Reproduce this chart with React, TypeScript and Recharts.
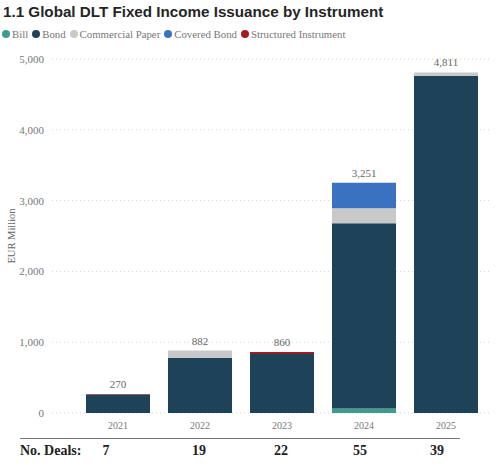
import * as React from "react"
import { ComposedChart, Bar, Line, XAxis, YAxis, CartesianGrid, LabelList } from "recharts"

const years = ["2021", "2022", "2023", "2024", "2025"]
const bill = [0, 0, 0, 65, 0]
const bond = [260, 780, 835, 2615, 4760]
const commercialPaper = [0, 102, 0, 211, 51]
const coveredBond = [0, 0, 0, 360, 0]
const structuredInstrument = [10, 0, 25, 0, 0]
const totals = [270, 882, 860, 3251, 4811]
const deals = [7, 19, 22, 55, 39]
const yTicks = [0, 1000, 2000, 3000, 4000, 5000]

const series = [
  { key: "bill", name: "Bill", color: "#3d9c8a" },
  { key: "bond", name: "Bond", color: "#1e4258" },
  { key: "commercialPaper", name: "Commercial Paper", color: "#c9c9c9" },
  { key: "coveredBond", name: "Covered Bond", color: "#3a71c1" },
  { key: "structuredInstrument", name: "Structured Instrument", color: "#a01c22" },
]

const data = years.map((year, i) => ({
  year,
  bill: bill[i],
  bond: bond[i],
  commercialPaper: commercialPaper[i],
  coveredBond: coveredBond[i],
  structuredInstrument: structuredInstrument[i],
  total: totals[i],
}))

const serif = "'Liberation Serif', 'DejaVu Serif', serif"
const fmt = (v: number) => v.toLocaleString("en-US")

// deal counts sit in their own row, not quite under the bars
const dealX = [106, 199, 281, 360, 437]

export default function App() {
  return (
    <div
      style={{
        position: "absolute",
        top: 0,
        left: 0,
        width: 500,
        height: 471,
        background: "#fff",
        overflow: "hidden",
      }}
    >
      <div
        style={{
          position: "absolute",
          left: 3,
          top: 3,
          fontFamily: "'Liberation Sans', Arial, sans-serif",
          fontWeight: 700,
          fontSize: 15.2,
          color: "#252525",
          whiteSpace: "nowrap",
        }}
      >
        1.1 Global DLT Fixed Income Issuance by Instrument
      </div>
      <div
        style={{
          position: "absolute",
          left: 2,
          top: 28,
          display: "flex",
          alignItems: "center",
          fontFamily: serif,
          fontSize: 10.8,
          color: "#777",
          whiteSpace: "nowrap",
        }}
      >
        {series.map((s) => (
          <span key={s.key} style={{ display: "flex", alignItems: "center", marginRight: 4 }}>
            <span
              style={{
                display: "inline-block",
                width: 8,
                height: 8,
                borderRadius: 4,
                background: s.color,
                marginRight: 2,
              }}
            />
            {s.name}
          </span>
        ))}
      </div>

      <div style={{ position: "absolute", left: 0, top: 0 }}>
        <ComposedChart
          width={500}
          height={471}
          data={data}
          margin={{ top: 59, right: 10, bottom: 37, left: 5 }}
        >
          <CartesianGrid
            vertical={false}
            stroke="#cfcfcf"
            strokeDasharray="1 3"
          />
          <XAxis
            dataKey="year"
            height={21}
            padding={{ left: 25, right: 3 }}
            axisLine={false}
            tickLine={false}
            tickSize={0}
            tickMargin={9}
            tick={{ fill: "#777", fontSize: 10, fontFamily: serif }}
          />
          <YAxis
            width={47}
            domain={[0, 5000]}
            ticks={yTicks}
            axisLine={false}
            tickLine={false}
            tickSize={0}
            tickMargin={8}
            tickFormatter={fmt}
            tick={{ fill: "#777", fontSize: 11, fontFamily: serif }}
            label={{
              value: "EUR Million",
              angle: -90,
              position: "insideLeft",
              offset: 6,
              style: { fill: "#666", fontSize: 10.5, fontFamily: serif, textAnchor: "middle" },
            }}
          />
          {series.map((s) => (
            <Bar
              key={s.key}
              dataKey={s.key}
              name={s.name}
              stackId="a"
              fill={s.color}
              barSize={64}
              isAnimationActive={false}
            />
          ))}
          <Line
            dataKey="total"
            stroke="none"
            dot={false}
            activeDot={false}
            legendType="none"
            isAnimationActive={false}
          >
            <LabelList
              dataKey="total"
              position="top"
              offset={6}
              formatter={(v: any) => fmt(Number(v))}
              style={{ fill: "#666", fontSize: 11, fontFamily: serif }}
            />
          </Line>
        </ComposedChart>
      </div>

      <div
        style={{
          position: "absolute",
          left: 20,
          top: 438,
          width: 440,
          borderTop: "1.5px solid #777",
        }}
      />
      <div
        style={{
          position: "absolute",
          left: 20,
          top: 443,
          fontFamily: serif,
          fontWeight: 700,
          fontSize: 14,
          color: "#222",
          whiteSpace: "nowrap",
        }}
      >
        No. Deals:
      </div>
      {deals.map((d, i) => (
        <div
          key={years[i]}
          style={{
            position: "absolute",
            left: dealX[i] - 20,
            width: 40,
            top: 443,
            textAlign: "center",
            fontFamily: serif,
            fontWeight: 700,
            fontSize: 14,
            color: "#222",
          }}
        >
          {d}
        </div>
      ))}
    </div>
  )
}
